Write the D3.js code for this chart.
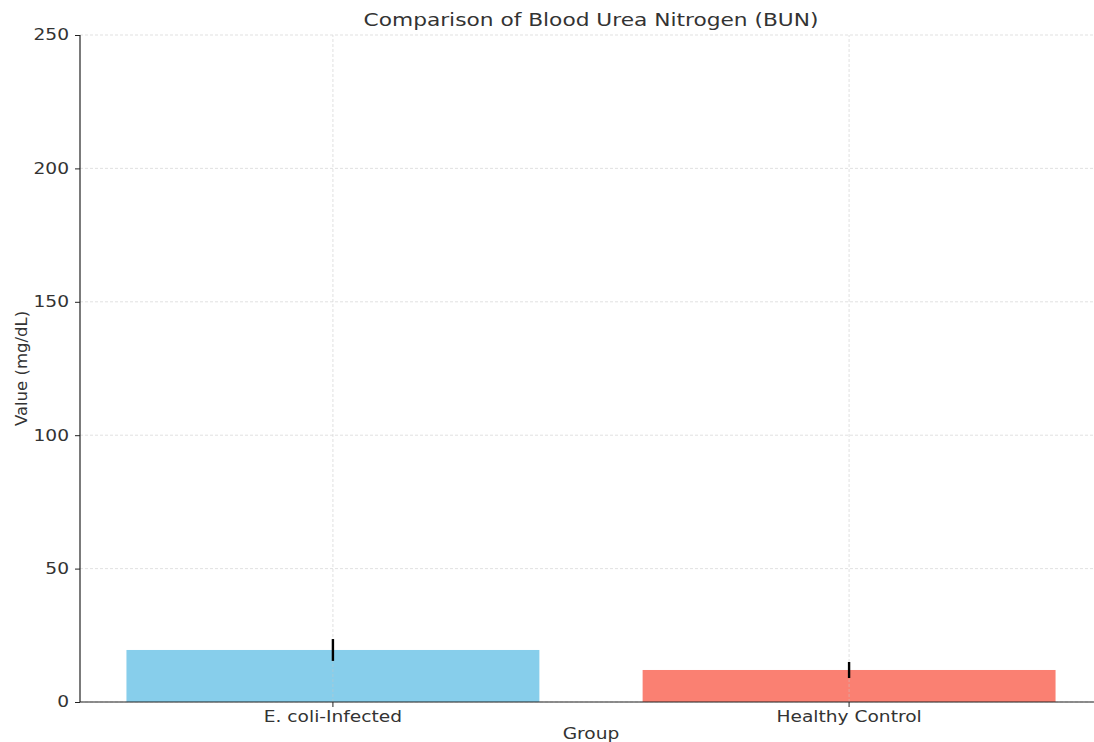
<!DOCTYPE html>
<html>
<head>
<meta charset="utf-8">
<script src="https://cdn.jsdelivr.net/npm/d3@7"></script>
<style>
  body { margin: 0; background: #fff; }
  svg { display: block; font-family: "DejaVu Sans", sans-serif; }
</style>
</head>
<body>
<svg id="chart" width="1094" height="742"></svg>
<script>
const categories = ["E. coli-Infected", "Healthy Control"];
const values = [19.5, 12.0];
const errors = [4.1, 3.0];
const colors = ["#87CEEB", "#FA8072"];
const yTicks = [0, 50, 100, 150, 200, 250];

const svg = d3.select("#chart");
const W = 1094, H = 742;
const margin = { left: 80, right: -8, top: 35, bottom: 40 };
const x = d3.scaleBand().domain(categories).range([margin.left, W - margin.right]).paddingInner(0.2).paddingOuter(0.09);
const y = d3.scaleLinear().domain([0, 250]).range([H - margin.bottom, margin.top]);
const STRETCH = 1.24;
function stretch(sel) {
  sel.each(function () {
    const n = this.getComputedTextLength();
    d3.select(this).attr("textLength", n * STRETCH).attr("lengthAdjust", "spacingAndGlyphs");
  });
}

// grid
const g = svg.append("g");
g.selectAll(".hg").data(yTicks).join("line")
  .attr("x1", margin.left).attr("x2", W)
  .attr("y1", d => y(d)).attr("y2", d => y(d))
  .attr("stroke", "#d9d9d9").attr("stroke-width", 0.8).attr("stroke-dasharray", "3,2");
g.selectAll(".vg").data(categories).join("line")
  .attr("x1", d => x(d) + x.bandwidth() / 2).attr("x2", d => x(d) + x.bandwidth() / 2)
  .attr("y1", y(0)).attr("y2", y(250))
  .attr("stroke", "#d9d9d9").attr("stroke-width", 0.8).attr("stroke-dasharray", "3,2");

// bars
svg.selectAll(".bar").data(categories).join("rect")
  .attr("x", d => x(d)).attr("width", x.bandwidth())
  .attr("y", (d, i) => y(values[i])).attr("height", (d, i) => y(0) - y(values[i]))
  .attr("fill", (d, i) => colors[i]);

// faint grid over bars
svg.selectAll(".vg2").data(categories).join("line")
  .attr("x1", d => x(d) + x.bandwidth() / 2).attr("x2", d => x(d) + x.bandwidth() / 2)
  .attr("y1", y(0)).attr("y2", (d, i) => y(values[i]))
  .attr("stroke", "#c8c8c8").attr("stroke-width", 0.8).attr("stroke-dasharray", "3,2").attr("opacity", 0.6);

// error bars
svg.selectAll(".err").data(categories).join("line")
  .attr("x1", d => x(d) + x.bandwidth() / 2).attr("x2", d => x(d) + x.bandwidth() / 2)
  .attr("y1", (d, i) => y(values[i] - errors[i])).attr("y2", (d, i) => y(values[i] + errors[i]))
  .attr("stroke", "#000").attr("stroke-width", 2.4);

// axes
const yAxis = svg.append("g").attr("transform", `translate(${margin.left},0)`)
  .call(d3.axisLeft(y).tickValues(yTicks).tickSize(5).tickPadding(6));
const xAxis = svg.append("g").attr("transform", `translate(0,${y(0)})`)
  .call(d3.axisBottom(x).tickSize(5).tickPadding(4));
[yAxis, xAxis].forEach(a => {
  a.select(".domain").attr("stroke", "#222").attr("stroke-width", 1.2);
  a.selectAll(".tick line").attr("stroke", "#222");
  a.selectAll(".tick text").attr("fill", "#333").style("font-size", "15px").style("font-family", "DejaVu Sans");
  stretch(a.selectAll(".tick text"));
});
xAxis.select(".domain").attr("d", `M${margin.left},0H${W}`);
yAxis.select(".domain").attr("d", `M0,${y(0)}V${y(250)}`);

// title and labels
const cx = (margin.left + W - margin.right) / 2;
svg.append("text").attr("x", cx).attr("y", 26)
  .attr("text-anchor", "middle").attr("fill", "#333").style("font-size", "17.5px")
  .text("Comparison of Blood Urea Nitrogen (BUN)").call(stretch);
svg.append("text").attr("x", cx).attr("y", 739)
  .attr("text-anchor", "middle").attr("fill", "#333").style("font-size", "15px")
  .text("Group").call(stretch);
svg.append("text").attr("transform", `translate(27,${(y(0) + y(250)) / 2}) rotate(-90)`)
  .attr("text-anchor", "middle").attr("fill", "#333").style("font-size", "16.5px")
  .text("Value (mg/dL)");
</script>
</body>
</html>
